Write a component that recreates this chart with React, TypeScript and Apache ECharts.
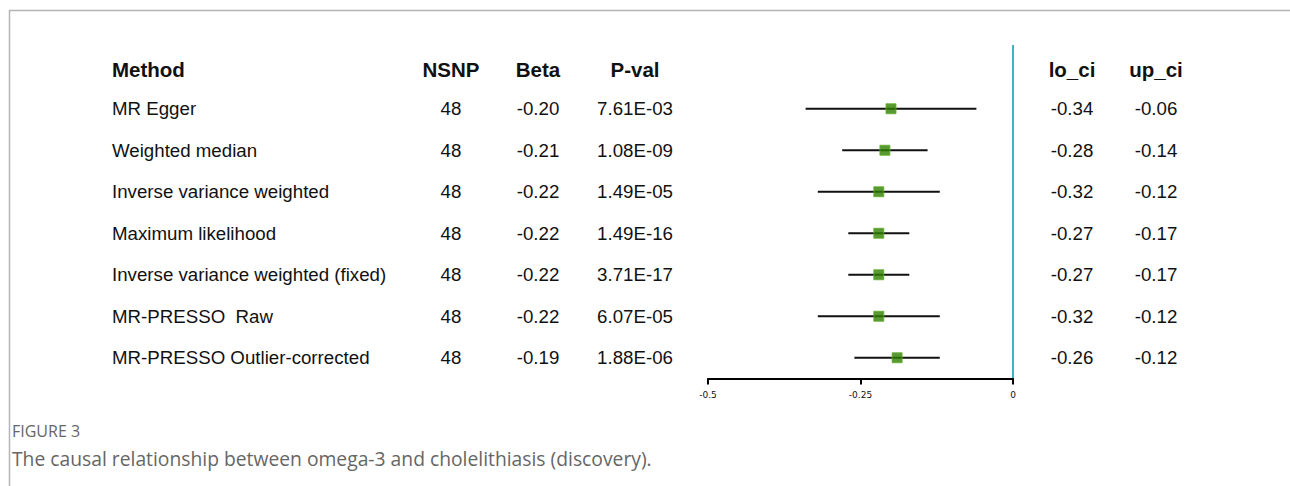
import React, { useEffect, useRef } from "react";
import * as echarts from "echarts";

const methods = [
  "MR Egger",
  "Weighted median",
  "Inverse variance weighted",
  "Maximum likelihood",
  "Inverse variance weighted (fixed)",
  "MR-PRESSO  Raw",
  "MR-PRESSO Outlier-corrected",
];
const nsnp = [48, 48, 48, 48, 48, 48, 48];
const beta = [-0.2, -0.21, -0.22, -0.22, -0.22, -0.22, -0.19];
const pval = ["7.61E-03", "1.08E-09", "1.49E-05", "1.49E-16", "3.71E-17", "6.07E-05", "1.88E-06"];
const loCi = [-0.34, -0.28, -0.32, -0.27, -0.27, -0.32, -0.26];
const upCi = [-0.06, -0.14, -0.12, -0.17, -0.17, -0.12, -0.12];
const headers = ["Method", "NSNP", "Beta", "P-val", "lo_ci", "up_ci"];
const xTicks = { min: -0.5, max: 0, interval: 0.25 };
const captionLabel = "FIGURE 3";
const captionText = "The causal relationship between omega-3 and cholelithiasis (discovery).";

export default function App() {
  const ref = useRef<HTMLDivElement>(null);
  useEffect(() => {
    if (!ref.current) return;
    const chart = echarts.init(ref.current, undefined, { renderer: "svg" });
    const font = "'Liberation Sans', Arial, sans-serif";
    const option: any = {
      animation: false,
      grid: { left: 708, width: 305, top: 88, height: 290.5 },
      xAxis: {
        type: "value",
        min: xTicks.min,
        max: xTicks.max,
        interval: xTicks.interval,
        splitLine: { show: false },
        axisLine: { show: true, onZero: false, lineStyle: { color: "#000", width: 2 } },
        axisTick: { show: true, length: 6, lineStyle: { color: "#000", width: 2 } },
        axisLabel: {
          fontSize: 9,
          color: "#111",
          margin: 12,
          fontFamily: "'DejaVu Sans', sans-serif",
          formatter: (v: number) => String(v),
        },
      },
      yAxis: {
        type: "category",
        data: methods,
        inverse: true,
        show: false,
      },
      series: [
        {
          type: "custom",
          data: methods.map((m, i) => [loCi[i], upCi[i], i]),
          renderItem: (params: any, api: any) => {
            const a = api.coord([api.value(0), api.value(2)]);
            const b = api.coord([api.value(1), api.value(2)]);
            return {
              type: "line",
              shape: { x1: a[0], y1: a[1], x2: b[0], y2: b[1] },
              style: { stroke: "#111", lineWidth: 2 },
            };
          },
          z: 1,
        },
        {
          type: "scatter",
          data: methods.map((m, i) => [beta[i], i]),
          symbol: "rect",
          symbolSize: 10,
          itemStyle: { color: "#2f7f00", borderColor: "#5fae28", borderWidth: 1 },
          z: 3,
        },
      ],
    };
    chart.setOption(option);

    const rowY = methods.map((m, i) => chart.convertToPixel({ yAxisIndex: 0 }, i) as number);
    const zeroX = chart.convertToPixel({ xAxisIndex: 0 }, 0) as number;
    const headerY = 69;
    const txt = (x: number, y: number, text: string, align: string, bold = false, size = 18.7) => ({
      type: "text",
      x,
      y,
      style: {
        text,
        fill: "#111",
        font: `${bold ? "bold " : ""}${size}px ${font}`,
        align,
        verticalAlign: "middle",
      },
    });
    const cols = [
      { x: 112, align: "left" },
      { x: 451, align: "center" },
      { x: 538, align: "center" },
      { x: 635, align: "center" },
      { x: 1072, align: "center" },
      { x: 1156, align: "center" },
    ];
    const elements: any[] = [];
    headers.forEach((h, c) => elements.push(txt(cols[c].x, headerY, h, cols[c].align, true, 20.5)));
    methods.forEach((m, i) => {
      const y = rowY[i];
      elements.push(txt(cols[0].x, y, m, "left"));
      elements.push(txt(cols[1].x, y, String(nsnp[i]), "center"));
      elements.push(txt(cols[2].x, y, beta[i].toFixed(2), "center"));
      elements.push(txt(cols[3].x, y, pval[i], "center"));
      elements.push(txt(cols[4].x, y, loCi[i].toFixed(2), "center"));
      elements.push(txt(cols[5].x, y, upCi[i].toFixed(2), "center"));
    });
    elements.push({
      type: "line",
      shape: { x1: zeroX, y1: 45, x2: zeroX, y2: 378 },
      style: { stroke: "#3bb3c8", lineWidth: 2 },
      z: 10,
    });
    elements.push({
      type: "line",
      shape: { x1: 9, y1: 10.5, x2: 1290, y2: 10.5 },
      style: { stroke: "#b5b5b5", lineWidth: 1.5 },
    });
    elements.push({
      type: "line",
      shape: { x1: 9.5, y1: 10, x2: 9.5, y2: 486 },
      style: { stroke: "#b5b5b5", lineWidth: 1.5 },
    });
    elements.push({
      type: "text",
      x: 12,
      y: 431,
      style: { text: captionLabel, fill: "#666", font: "16px 'Open Sans', sans-serif", verticalAlign: "middle" },
    });
    elements.push({
      type: "text",
      x: 12,
      y: 458,
      style: { text: captionText, fill: "#666", font: "19.3px 'Open Sans', sans-serif", verticalAlign: "middle" },
    });
    chart.setOption({ graphic: { elements } });
    return () => chart.dispose();
  }, []);
  return (
    <div
      ref={ref}
      style={{ position: "fixed", left: 0, top: 0, width: 1290, height: 486, background: "#fff" }}
    />
  );
}
